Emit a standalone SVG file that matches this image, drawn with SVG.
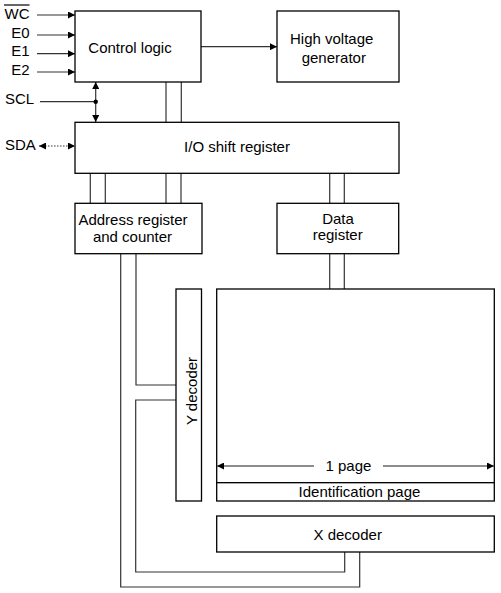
<svg xmlns="http://www.w3.org/2000/svg" width="501" height="593" viewBox="0 0 501 593">
<defs>
<style>
.box{fill:#fff;stroke:#000;stroke-width:1.3}
.w{fill:none;stroke:#333;stroke-width:1.2}
.g{fill:none;stroke:#666;stroke-width:1.3}
text{font-family:"Liberation Sans",Arial,sans-serif;font-size:15px;fill:#000}
.c{text-anchor:middle}
.e{text-anchor:end}
</style>
<marker id="ah" viewBox="0 0 10 10" refX="10" refY="5" markerWidth="8" markerHeight="7" markerUnits="userSpaceOnUse" orient="auto-start-reverse">
<path d="M0,0 L10,5 L0,10 z" fill="#000"/>
</marker>
</defs>
<rect width="501" height="593" fill="#fff"/>
<g id="connectors">
<line class="w" x1="37" y1="15" x2="75" y2="15" marker-end="url(#ah)"/>
<line class="w" x1="37" y1="35" x2="75" y2="35" marker-end="url(#ah)"/>
<line class="w" x1="37" y1="53.7" x2="75" y2="53.7" marker-end="url(#ah)"/>
<line class="w" x1="37" y1="72" x2="75" y2="72" marker-end="url(#ah)"/>
<line class="w" x1="201" y1="46.7" x2="277" y2="46.7" marker-end="url(#ah)"/>
<line class="w" x1="40" y1="101.7" x2="95.7" y2="101.7"/>
<line class="w" x1="95.7" y1="82" x2="95.7" y2="122" marker-start="url(#ah)" marker-end="url(#ah)"/>
<circle cx="95.7" cy="101.7" r="2.2" fill="#000"/>
<line class="w" x1="39" y1="146" x2="75" y2="146" stroke-dasharray="1.5,1.5" marker-start="url(#ah)" marker-end="url(#ah)"/>
<line class="w" x1="166" y1="82" x2="166" y2="122"/>
<line class="w" x1="181.3" y1="82" x2="181.3" y2="122"/>
<line class="w" x1="90.3" y1="173" x2="90.3" y2="203"/>
<line class="w" x1="105.3" y1="173" x2="105.3" y2="203"/>
<line class="w" x1="166" y1="173" x2="166" y2="203"/>
<line class="w" x1="181" y1="173" x2="181" y2="203"/>
<line class="w" x1="329.7" y1="173" x2="329.7" y2="203"/>
<line class="w" x1="344.3" y1="173" x2="344.3" y2="203"/>
<line class="w" x1="329.7" y1="254" x2="329.7" y2="289"/>
<line class="w" x1="344.3" y1="254" x2="344.3" y2="289"/>
<polyline class="w" points="136,254 136,385 176,385"/>
<polyline class="w" points="176,400 135.7,400 135.7,572 344.7,572 344.7,552"/>
<polyline class="w" points="120.7,254 120.7,587 359.7,587 359.7,552"/>
</g>
<g id="control-logic">
<rect class="box" x="75" y="11" width="126" height="71"/>
<text class="c" x="130" y="53">Control logic</text>
</g>
<g id="high-voltage-generator">
<rect class="box" x="277" y="11" width="122" height="71"/>
<text class="c" x="331.7" y="43.5">High voltage</text>
<text class="c" x="333.8" y="63">generator</text>
</g>
<g id="io-shift-register">
<rect class="box" x="75" y="122.3" width="324" height="51"/>
<text class="c" x="237" y="151.7">I/O shift register</text>
</g>
<g id="address-register">
<rect class="box" x="75" y="203.3" width="127" height="50.4"/>
<text class="c" x="133" y="225">Address register</text>
<text class="c" x="132.5" y="241.7">and counter</text>
</g>
<g id="data-register">
<rect class="box" x="277" y="203.3" width="121.7" height="50.4"/>
<text class="c" x="338" y="224.3">Data</text>
<text class="c" x="337.7" y="240.3">register</text>
</g>
<g id="y-decoder">
<rect class="box" x="176" y="289" width="25.5" height="212"/>
<text class="c" transform="translate(196.5,391) rotate(-90)">Y decoder</text>
</g>
<g id="memory-array">
<rect class="box" x="216.7" y="289" width="277.6" height="193.7"/>
<line class="g" x1="217" y1="466" x2="314" y2="466" marker-start="url(#ah)"/>
<line class="g" x1="383" y1="466" x2="494" y2="466" marker-end="url(#ah)"/>
<text class="c" x="348.4" y="470.7">1 page</text>
</g>
<g id="identification-page">
<rect class="box" x="216.7" y="482.7" width="277.6" height="18.3"/>
<text class="c" x="359.5" y="496.7">Identification page</text>
</g>
<g id="x-decoder">
<rect class="box" x="216.7" y="516" width="277.6" height="36"/>
<text class="c" x="347.7" y="540">X decoder</text>
</g>
<g id="labels">
<text class="e" x="29.5" y="19.3">WC</text>
<line x1="4" y1="5" x2="29.5" y2="5" stroke="#000" stroke-width="1.2"/>
<text class="e" x="29.5" y="37.7">E0</text>
<text class="e" x="29.5" y="56">E1</text>
<text class="e" x="29.5" y="75.3">E2</text>
<text x="5" y="104.3">SCL</text>
<text x="5" y="149.7">SDA</text>
</g>
</svg>
